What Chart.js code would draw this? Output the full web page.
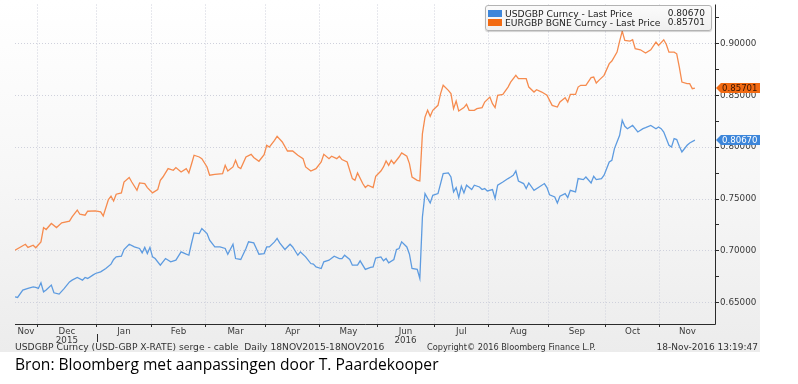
<!DOCTYPE html>
<html>
<head>
<meta charset="utf-8">
<script src="https://cdn.jsdelivr.net/npm/chart.js@4.4.1/dist/chart.umd.min.js"></script>
<style>
  body { margin: 0; width: 798px; height: 384px; overflow: hidden; position: relative; background: #fff; font-family: "DejaVu Sans", sans-serif; }
  #bbg { position: absolute; left: 0; top: 0; width: 760px; height: 352px; background: linear-gradient(#ffffff 0%, #f7f7f7 50%, #ececec 100%); }
  #chart { position: absolute; left: 0; top: 0; }
  #legend { position: absolute; left: 485px; top: 5px; width: 225px; height: 24px; border: 1px solid #b3b3b3; border-radius: 3px;
            background: linear-gradient(#fbfbfb, #f0f0f0); box-shadow: 0 1px 1px rgba(0,0,0,0.18); color: #222; }
  .row { position: absolute; left: 2px; right: 6px; height: 9px; line-height: 9px; white-space: nowrap; }
  .sw { position: absolute; left: 0; top: 1px; width: 14px; height: 7px; }
  .lbl { position: absolute; left: 17px; font-size: 9.2px; }
  .val { position: absolute; right: 0; font-size: 9px; }
  .foot { position: absolute; top: 342px; font-size: 9px; line-height: 10px; color: #333; white-space: nowrap; }
  #bron { position: absolute; left: 15px; top: 353px; font-family: "Open Sans", sans-serif; font-size: 15.6px; color: #000; white-space: nowrap; }
</style>
</head>
<body>
<div id="bbg"></div>
<canvas id="chart" width="760" height="352"></canvas>
<div id="legend">
  <div class="row" style="top:3px"><span class="sw" style="background:#3d86da"></span><span class="lbl">USDGBP Curncy - Last Price</span><span class="val" id="usdLast"></span></div>
  <div class="row" style="top:12px"><span class="sw" style="background:#f26a12"></span><span class="lbl">EURGBP BGNE Curncy - Last Price</span><span class="val" id="eurLast"></span></div>
</div>
<div class="foot" style="left:15px; font-size:9.2px">USDGBP Curncy (USD-GBP X-RATE) serge - cable&nbsp; Daily 18NOV2015-18NOV2016</div>
<div class="foot" style="left:427px; font-size:8.2px">Copyright© 2016 Bloomberg Finance L.P.</div>
<div class="foot" style="right:40px">18-Nov-2016 13:19:47</div>
<div id="bron">Bron: Bloomberg met aanpassingen door T. Paardekooper</div>

<script>
// x = trading day since 18 Nov 2015, y = last price
const usdgbp = [
  [0,0.6557],[1,0.6551],[3,0.6622],[5,0.6638],[7,0.6653],[8,0.6647],[9,0.6638],[10,0.6692],[11,0.6605],[12,0.6622],
  [14,0.6670],[15,0.6596],[17,0.6583],[19,0.6638],[21,0.6701],[22,0.6718],[24,0.6744],[26,0.6718],[27,0.6744],[28,0.6734],
  [30,0.6766],[31,0.6782],[33,0.6798],[35,0.6830],[37,0.6872],[38,0.6917],[39,0.6942],[41,0.6949],[42,0.7013],[44,0.7064],
  [46,0.7038],[48,0.7023],[49,0.6980],[50,0.7033],[51,0.6974],[52,0.7033],[53,0.6942],[54,0.6926],[56,0.6862],[57,0.6894],
  [58,0.6926],[60,0.6894],[62,0.6910],[64,0.6990],[66,0.6968],[67,0.6958],[68,0.7071],[69,0.7173],[71,0.7167],[72,0.7215],
  [74,0.7167],[75,0.7103],[77,0.7038],[79,0.7038],[81,0.7023],[82,0.6968],[84,0.7064],[85,0.6926],[87,0.6917],[89,0.7023],
  [90,0.7087],[92,0.7077],[93,0.7023],[94,0.6968],[96,0.6974],[97,0.7038],[98,0.7038],[100,0.7087],[101,0.7120],[102,0.7077],
  [104,0.7013],[106,0.7064],[107,0.7038],[109,0.6958],[110,0.6990],[112,0.6942],[114,0.6878],[115,0.6872],[116,0.6846],[118,0.6830],
  [119,0.6894],[121,0.6910],[123,0.6949],[125,0.6926],[126,0.6926],[127,0.6958],[129,0.6917],[130,0.6862],[132,0.6862],[133,0.6904],
  [135,0.6821],[137,0.6841],[138,0.6846],[139,0.6930],[141,0.6942],[142,0.6904],[143,0.6926],[144,0.6884],[146,0.6917],[147,0.7013],
  [148,0.7023],[149,0.7087],[151,0.7038],[152,0.6968],[153,0.6830],[155,0.6821],[156,0.6734],[157,0.7327],[158,0.7552],[160,0.7462],
  [161,0.7536],[163,0.7552],[164,0.7649],[165,0.7745],[167,0.7751],[168,0.7712],[169,0.7568],[170,0.7610],[171,0.7514],[172,0.7623],
  [173,0.7559],[174,0.7633],[176,0.7591],[177,0.7633],[179,0.7616],[180,0.7591],[181,0.7601],[182,0.7578],[184,0.7591],[185,0.7505],
  [186,0.7633],[188,0.7664],[190,0.7697],[191,0.7712],[192,0.7729],[193,0.7770],[194,0.7674],[196,0.7649],[197,0.7601],[198,0.7655],
  [200,0.7584],[202,0.7616],[204,0.7649],[205,0.7610],[206,0.7540],[208,0.7520],[209,0.7462],[210,0.7527],[212,0.7552],[213,0.7514],
  [214,0.7584],[216,0.7568],[217,0.7697],[219,0.7687],[220,0.7712],[222,0.7655],[223,0.7719],[224,0.7687],[226,0.7697],[227,0.7729],
  [229,0.7857],[230,0.7873],[231,0.7986],[233,0.8114],[234,0.8259],[235,0.8201],[236,0.8178],[238,0.8210],[240,0.8146],[242,0.8178],
  [243,0.8188],[245,0.8210],[247,0.8178],[248,0.8194],[249,0.8178],[250,0.8146],[252,0.8018],[253,0.8001],[254,0.8082],[255,0.8073],
  [256,0.8008],[257,0.7953],[259,0.8018],[260,0.8040],[262,0.8067]
];

const eurgbp = [
  [0,0.7007],[4,0.7064],[5,0.7033],[7,0.7055],[8,0.7030],[10,0.7087],[11,0.7225],[12,0.7206],[14,0.7264],[16,0.7225],
  [18,0.7270],[21,0.7286],[22,0.7327],[24,0.7392],[25,0.7353],[27,0.7344],[28,0.7382],[31,0.7385],[33,0.7376],[34,0.7337],
  [36,0.7495],[37,0.7527],[38,0.7481],[39,0.7546],[41,0.7559],[42,0.7664],[44,0.7707],[45,0.7664],[47,0.7584],[48,0.7655],
  [50,0.7649],[51,0.7610],[53,0.7559],[55,0.7591],[56,0.7680],[57,0.7712],[59,0.7793],[61,0.7777],[62,0.7803],[64,0.7760],
  [66,0.7793],[67,0.7751],[68,0.7835],[69,0.7922],[71,0.7905],[72,0.7889],[74,0.7809],[75,0.7729],[77,0.7738],[80,0.7745],
  [81,0.7825],[82,0.7770],[84,0.7809],[85,0.7873],[86,0.7809],[87,0.7793],[89,0.7905],[91,0.7931],[92,0.7900],[94,0.7864],
  [96,0.7928],[97,0.8018],[98,0.8001],[100,0.8066],[101,0.8104],[103,0.8050],[105,0.7963],[107,0.7963],[109,0.7922],[111,0.7889],
  [112,0.7809],[114,0.7770],[116,0.7793],[118,0.7857],[119,0.7931],[121,0.7889],[122,0.7912],[124,0.7889],[125,0.7912],[126,0.7880],
  [128,0.7857],[130,0.7697],[131,0.7680],[132,0.7751],[134,0.7649],[135,0.7610],[136,0.7633],[138,0.7610],[139,0.7719],[141,0.7770],
  [142,0.7809],[143,0.7867],[144,0.7825],[145,0.7873],[146,0.7841],[148,0.7905],[149,0.7944],[151,0.7912],[152,0.7841],[153,0.7712],
  [155,0.7680],[156,0.7674],[157,0.8130],[158,0.8290],[159,0.8355],[160,0.8297],[161,0.8355],[163,0.8403],[164,0.8516],[165,0.8596],
  [167,0.8547],[168,0.8516],[169,0.8371],[170,0.8444],[171,0.8348],[173,0.8381],[174,0.8413],[175,0.8355],[177,0.8355],[178,0.8371],
  [180,0.8381],[181,0.8435],[183,0.8483],[184,0.8419],[185,0.8381],[186,0.8500],[188,0.8509],[190,0.8579],[191,0.8627],[193,0.8692],
  [194,0.8660],[196,0.8660],[197,0.8660],[198,0.8579],[200,0.8531],[201,0.8554],[203,0.8531],[205,0.8500],[206,0.8451],[207,0.8403],
  [209,0.8387],[210,0.8435],[212,0.8477],[213,0.8435],[214,0.8509],[216,0.8509],[217,0.8579],[218,0.8596],[220,0.8596],[222,0.8670],
  [223,0.8676],[224,0.8618],[225,0.8644],[227,0.8692],[229,0.8805],[230,0.8830],[232,0.8916],[233,0.9022],[234,0.9118],[235,0.9029],
  [237,0.9022],[238,0.9035],[239,0.8949],[241,0.8939],[243,0.8907],[245,0.8939],[247,0.9013],[248,0.8981],[250,0.9035],[251,0.8990],
  [252,0.8916],[254,0.8916],[255,0.8900],[256,0.8772],[257,0.8627],[259,0.8612],[260,0.8612],[261,0.8564],[262,0.85701]
];

const lastPrices = [0.80670, 0.85701];

// month starts (between trading days) and the month names shown between them
const monthBounds = [8.5, 31.5, 52.5, 73.5, 96.5, 117.5, 139.5, 161.5, 182.5, 205.5, 227.5, 248.5];
const monthLabels = ['Nov', 'Dec', 'Jan', 'Feb', 'Mar', 'Apr', 'May', 'Jun', 'Jul', 'Aug', 'Sep', 'Oct', 'Nov'];
const yearLabels = ['', '2015', '', '', '', '', '', '2016', '', '', '', '', ''];
const yearBreak = 31.5;

const yMajor = [0.65, 0.70, 0.75, 0.80, 0.85, 0.90];
const yMinor = [0.675, 0.725, 0.775, 0.825, 0.875, 0.925];

const xMin = 0, xMax = 269.75;
const yMin = 0.6295, yMax = 0.9375;

const blue = '#5d9be0';
const orange = '#f68b4e';
const gridColor = '#cfd1dc';

document.getElementById('usdLast').textContent = lastPrices[0].toFixed(5);
document.getElementById('eurLast').textContent = lastPrices[1].toFixed(5);

const edges = [xMin, ...monthBounds, xMax];
const monthMids = monthLabels.map((m, i) => (edges[i] + edges[i + 1]) / 2);
const isBound = v => monthBounds.some(b => Math.abs(b - v) < 1e-6);
const isMajor = v => yMajor.some(m => Math.abs(m - v) < 1e-6);

const extras = {
  id: 'extras',
  afterDraw(chart) {
    const { ctx, chartArea: a, scales: { x, y } } = chart;
    ctx.save();
    ctx.strokeStyle = '#2b2b2b';
    ctx.lineWidth = 1;
    ctx.beginPath();
    ctx.moveTo(a.left, a.bottom + 0.5);
    ctx.lineTo(a.right + 0.5, a.bottom + 0.5);
    ctx.moveTo(a.right + 0.5, a.top);
    ctx.lineTo(a.right + 0.5, a.bottom + 0.5);
    const sx = Math.round(x.getPixelForValue(yearBreak)) + 0.5;
    ctx.moveTo(sx, a.bottom + 10);
    ctx.lineTo(sx, a.bottom + 18);
    ctx.stroke();

    // last price tags on the right axis
    const tags = [
      { v: lastPrices[1], fill: '#f26a12', text: '#3b1600' },
      { v: lastPrices[0], fill: '#3d86da', text: '#ffffff' }
    ];
    ctx.font = '8.6px "DejaVu Sans"';
    ctx.textBaseline = 'middle';
    tags.forEach(t => {
      const py = Math.round(y.getPixelForValue(t.v));
      const x0 = a.right + 1;
      ctx.beginPath();
      ctx.moveTo(x0, py);
      ctx.lineTo(x0 + 5, py - 5);
      ctx.lineTo(x0 + 45, py - 5);
      ctx.lineTo(x0 + 45, py + 5);
      ctx.lineTo(x0 + 5, py + 5);
      ctx.closePath();
      ctx.fillStyle = t.fill;
      ctx.fill();
      ctx.fillStyle = t.text;
      ctx.fillText(t.v.toFixed(5), x0 + 6, py + 0.5);
    });
    ctx.restore();
  }
};

new Chart(document.getElementById('chart'), {
  type: 'line',
  data: {
    datasets: [
      { label: 'USDGBP Curncy - Last Price', data: usdgbp.map(p => ({ x: p[0], y: p[1] })), borderColor: blue },
      { label: 'EURGBP BGNE Curncy - Last Price', data: eurgbp.map(p => ({ x: p[0], y: p[1] })), borderColor: orange }
    ]
  },
  options: {
    responsive: false,
    animation: false,
    devicePixelRatio: 1,
    layout: { padding: { left: 15, top: 4, right: 0, bottom: 0 } },
    elements: {
      line: { borderWidth: 1.3, tension: 0 },
      point: { radius: 0 }
    },
    plugins: { legend: { display: false }, tooltip: { enabled: false } },
    scales: {
      x: {
        type: 'linear',
        min: xMin,
        max: xMax,
        afterBuildTicks: s => { s.ticks = [...monthBounds, ...monthMids].sort((p, q) => p - q).map(v => ({ value: v })); },
        afterFit: s => { s.height = 28; },
        border: { display: false, dash: [1, 2] },
        grid: {
          color: c => isBound(c.tick.value) ? gridColor : 'rgba(0,0,0,0)',
          tickColor: c => isBound(c.tick.value) ? '#2b2b2b' : 'rgba(0,0,0,0)',
          tickLength: 3,
          lineWidth: 1
        },
        ticks: {
          autoSkip: false,
          maxRotation: 0,
          padding: 0,
          color: '#3a3a3a',
          font: { family: 'DejaVu Sans', size: 8.7, lineHeight: 1.05 },
          callback: v => {
            const i = monthMids.findIndex(m => Math.abs(m - v) < 1e-6);
            if (i < 0) return '';
            return yearLabels[i] ? [monthLabels[i], yearLabels[i]] : monthLabels[i];
          }
        }
      },
      y: {
        position: 'right',
        min: yMin,
        max: yMax,
        afterBuildTicks: s => { s.ticks = [...yMajor, ...yMinor].sort((p, q) => p - q).map(v => ({ value: v })); },
        afterFit: s => { s.width = 45; },
        border: { display: false, dash: [1, 2] },
        grid: {
          color: c => isMajor(c.tick.value) ? gridColor : 'rgba(0,0,0,0)',
          tickColor: '#2b2b2b',
          tickLength: 4,
          lineWidth: 1
        },
        ticks: {
          padding: 1,
          color: '#3a3a3a',
          font: { family: 'DejaVu Sans', size: 8.8, lineHeight: 0.8 },
          callback: v => isMajor(v) ? v.toFixed(5) : ''
        }
      }
    }
  },
  plugins: [extras]
});
</script>
</body>
</html>
